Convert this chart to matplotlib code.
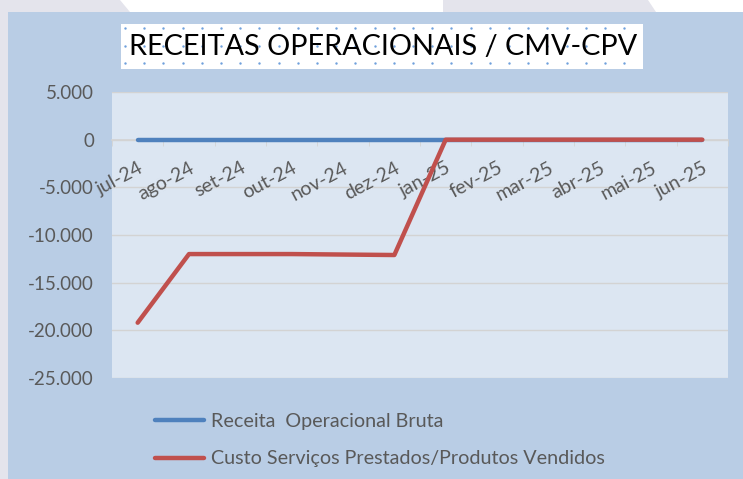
import matplotlib
matplotlib.use("Agg")
import matplotlib.pyplot as plt
import matplotlib.patches as mpatches
import numpy as np

plt.rcParams["font.family"] = ["Lato", "DejaVu Sans"]

# Data
months = ["jul-24", "ago-24", "set-24", "out-24", "nov-24", "dez-24",
          "jan-25", "fev-25", "mar-25", "abr-25", "mai-25", "jun-25"]
receita = [0, 0, 0, 0, 0, 0, 0, 0, 0, 0, 0, 0]
custo = [-19200, -12000, -12000, -12000, -12050, -12100,
         0, 0, 0, 0, 0, 0]
labels = ["Receita  Operacional Bruta",
          "Custo Serviços Prestados/Produtos Vendidos"]
title = "RECEITAS OPERACIONAIS / CMV-CPV"

W, H = 743, 479
fig = plt.figure(figsize=(W / 100, H / 100), dpi=100)
fig.patch.set_facecolor("white")

TXT = "#595959"

def fx(px):
    return px / W

def fy(py):
    return 1 - py / H

# slide background bits
grey = "#E4E4EC"
fig.patches.append(mpatches.Rectangle((0, 0), fx(8), 1, transform=fig.transFigure,
                                      facecolor=grey, edgecolor="none", zorder=-3))
fig.patches.append(mpatches.Polygon([(0, 1), (fx(120), 1), (fx(130), fy(12)), (0, fy(12))],
                                    closed=True, transform=fig.transFigure,
                                    facecolor=grey, edgecolor="none", zorder=-3))
fig.patches.append(mpatches.Polygon([(fx(443), 1), (fx(648), 1), (fx(656), fy(12)), (fx(443), fy(12))],
                                    closed=True, transform=fig.transFigure,
                                    facecolor=grey, edgecolor="none", zorder=-3))
# chart area
fig.patches.append(mpatches.Rectangle((fx(8), 0), 1 - fx(8), fy(12), transform=fig.transFigure,
                                      facecolor="#B9CDE5", edgecolor="none", zorder=-2))

# title box with dotted fill
tax = fig.add_axes([fx(121), fy(69), fx(643) - fx(121), fy(24) - fy(69)])
tax.set_xlim(121, 643)
tax.set_ylim(69, 24)
tax.set_facecolor("white")
tax.set_xticks([])
tax.set_yticks([])
for s in tax.spines.values():
    s.set_visible(False)
dx, dy = np.meshgrid(np.arange(125, 640, 19.2), [28, 45.5, 63])
tax.scatter(dx.ravel(), dy.ravel(), s=3, color="#6FA0DC", linewidths=0)
tax.text(383, 47, title, ha="center", va="center", fontsize=20.8, color="black")

ax = fig.add_axes([fx(112), fy(378), fx(728) - fx(112), fy(92) - fy(378)])
ax.set_zorder(5)
ax.set_facecolor("#DCE6F2")

x = np.arange(len(months))
l1, = ax.plot(x, receita, color="#4F81BD", linewidth=3.2, solid_capstyle="round", zorder=3)
l2, = ax.plot(x, custo, color="#C0504D", linewidth=3.2, solid_capstyle="round", zorder=4)

ax.set_xlim(-0.5, len(months) - 0.5)
ax.set_ylim(-25000, 5000)
yt = np.arange(-25000, 5001, 5000)
ax.set_yticks(yt)
ax.set_yticklabels([f"{v:,.0f}".replace(",", ".") for v in yt], color=TXT, fontsize=13.5)
# gridlines kept under the tick labels
for v in yt:
    ax.axhline(v, color="#D3D3D3", linewidth=1, zorder=0.2)
ax.xaxis.set_zorder(2)
ax.tick_params(axis="y", length=0, pad=13)

for s in ["top", "right", "left"]:
    ax.spines[s].set_visible(False)
ax.spines["bottom"].set_position(("data", 0))
ax.spines["bottom"].set_color("#D3D3D3")
ax.spines["bottom"].set_linewidth(1.2)
ax.spines["bottom"].set_zorder(1)

ax.set_xticks(x)
ax.set_xticklabels(months, rotation=28, ha="right", va="top",
                   rotation_mode="anchor", color=TXT, fontsize=14)
ax.tick_params(axis="x", which="major", length=0, pad=14)
ax.set_xticks(np.arange(-0.5, len(months)), minor=True)
ax.tick_params(axis="x", which="minor", length=4, color="#D3D3D3", direction="out")

fig.legend([l1, l2], labels, loc="upper left", bbox_to_anchor=(fx(137), fy(395)),
           frameon=False, fontsize=14.2, labelcolor=TXT, handlelength=2.5,
           handletextpad=0.35, labelspacing=1.05)

fig.savefig("out.png", dpi=100)
